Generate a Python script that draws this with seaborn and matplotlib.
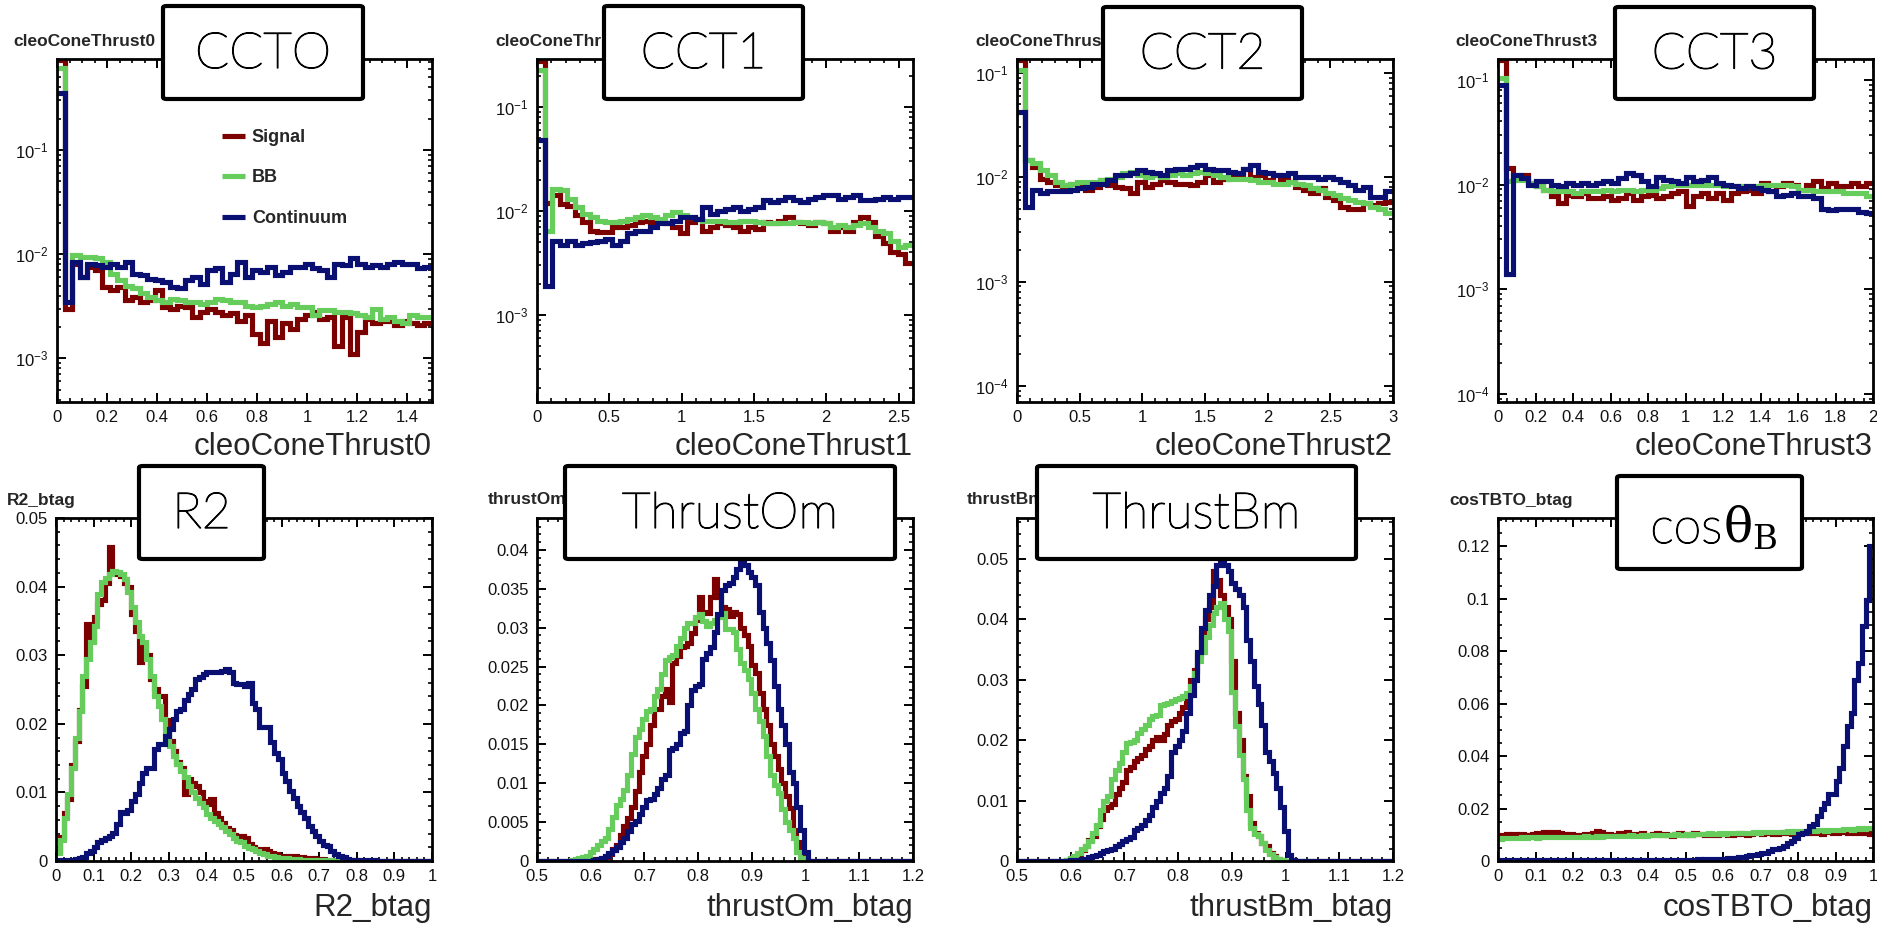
import numpy as np
import pandas as pd
import matplotlib
matplotlib.use("Agg")
import matplotlib.pyplot as plt
import matplotlib.patheffects as pe
import seaborn as sns
from matplotlib.patches import FancyBboxPatch
from matplotlib.ticker import MultipleLocator, FuncFormatter, LogLocator, NullFormatter

sns.set_style("ticks")
plt.rcParams['font.family'] = ['Liberation Sans', 'DejaVu Sans']
plt.rcParams['mathtext.fontset'] = 'custom'
plt.rcParams['mathtext.rm'] = 'Liberation Sans'
plt.rcParams['mathtext.it'] = 'Liberation Sans:italic'
plt.rcParams['mathtext.bf'] = 'Liberation Sans:bold'

# ---------------- data ----------------
labels = ["Signal", "BB", "Continuum"]
colors = ["#7d0000", "#66cc5c", "#0a0f72"]

# cleoConeThrust0 : 50 bins 0..1.5
cct0_edges = np.linspace(0.0, 1.5, 51)
cct0_signal = [0.73, 0.0030, 0.0081, 0.0060, 0.0075, 0.0070, 0.0048, 0.0045, 0.0048, 0.0036,
               0.0039, 0.0035, 0.0036, 0.0045, 0.0031, 0.0030, 0.0032, 0.0031, 0.0025, 0.0028,
               0.0030, 0.0028, 0.0026, 0.0027, 0.0023, 0.0026, 0.0017, 0.0014, 0.0023, 0.0016,
               0.0022, 0.0019, 0.0024, 0.0026, 0.0028, 0.0024, 0.0025, 0.0013, 0.0025, 0.0011,
               0.0018, 0.0024, 0.0022, 0.0023, 0.0023, 0.0021, 0.0023, 0.0022, 0.0021, 0.0022]
cct0_bb = [0.62, 0.0035, 0.0098, 0.0094, 0.0094, 0.0091, 0.0084, 0.0065, 0.0056, 0.0050,
           0.0047, 0.0042, 0.0039, 0.0036, 0.0035, 0.0037, 0.0036, 0.0035, 0.0035, 0.0033,
           0.0035, 0.0037, 0.0036, 0.0035, 0.0035, 0.0032, 0.0031, 0.0032, 0.0033, 0.0035,
           0.0032, 0.0033, 0.0031, 0.0031, 0.0026, 0.0029, 0.0029, 0.0028, 0.0028, 0.0027,
           0.0026, 0.0025, 0.0030, 0.0024, 0.0025, 0.0023, 0.0022, 0.0026, 0.0025, 0.0025]
cct0_cont = [0.35, 0.0035, 0.0084, 0.0060, 0.0081, 0.0078, 0.0075, 0.0081, 0.0075, 0.0084,
             0.0065, 0.0063, 0.0058, 0.0056, 0.0054, 0.0048, 0.0047, 0.0056, 0.0060, 0.0052,
             0.0070, 0.0073, 0.0054, 0.0065, 0.0084, 0.0060, 0.0070, 0.0067, 0.0075, 0.0063,
             0.0067, 0.0075, 0.0075, 0.0081, 0.0073, 0.0070, 0.0060, 0.0081, 0.0078, 0.0091,
             0.0081, 0.0075, 0.0078, 0.0075, 0.0081, 0.0084, 0.0081, 0.0081, 0.0073, 0.0075]

# cleoConeThrust1 : 50 bins 0..2.6
cct1_edges = np.linspace(0.0, 2.6, 51)
cct1_signal = [0.28, 0.0120, 0.0142, 0.0118, 0.0113, 0.0091, 0.0078, 0.0065, 0.0063, 0.0063,
               0.0070, 0.0070, 0.0073, 0.0078, 0.0081, 0.0078, 0.0078, 0.0076, 0.0070, 0.0061,
               0.0078, 0.0084, 0.0065, 0.0070, 0.0076, 0.0073, 0.0070, 0.0065, 0.0070, 0.0068,
               0.0078, 0.0076, 0.0081, 0.0088, 0.0078, 0.0076, 0.0073, 0.0078, 0.0076, 0.0065,
               0.0070, 0.0065, 0.0078, 0.0088, 0.0078, 0.0058, 0.0049, 0.0040, 0.0039, 0.0032]
cct1_bb = [0.225, 0.0065, 0.0164, 0.0158, 0.0132, 0.0109, 0.0094, 0.0088, 0.0081, 0.0078,
           0.0078, 0.0081, 0.0084, 0.0088, 0.0091, 0.0088, 0.0084, 0.0091, 0.0098, 0.0091,
           0.0088, 0.0084, 0.0081, 0.0081, 0.0081, 0.0078, 0.0078, 0.0081, 0.0081, 0.0078,
           0.0076, 0.0076, 0.0076, 0.0076, 0.0078, 0.0078, 0.0076, 0.0078, 0.0076, 0.0070,
           0.0073, 0.0070, 0.0073, 0.0076, 0.0070, 0.0065, 0.0061, 0.0052, 0.0045, 0.0047]
cct1_cont = [0.048, 0.0019, 0.0052, 0.0047, 0.0052, 0.0047, 0.0049, 0.0050, 0.0052, 0.0054,
             0.0047, 0.0052, 0.0061, 0.0065, 0.0065, 0.0070, 0.0076, 0.0076, 0.0081, 0.0088,
             0.0088, 0.0084, 0.0109, 0.0094, 0.0101, 0.0105, 0.0109, 0.0101, 0.0105, 0.0109,
             0.0127, 0.0122, 0.0127, 0.0136, 0.0127, 0.0122, 0.0132, 0.0136, 0.0142, 0.0142,
             0.0132, 0.0136, 0.0142, 0.0127, 0.0127, 0.0132, 0.0136, 0.0132, 0.0136, 0.0136]

# cleoConeThrust2 : 50 bins 0..3
cct2_edges = np.linspace(0.0, 3.0, 51)
cct2_signal = [0.132, 0.0146, 0.0126, 0.0097, 0.0090, 0.0084, 0.0081, 0.0087, 0.0081, 0.0075,
               0.0081, 0.0094, 0.0084, 0.0081, 0.0078, 0.0070, 0.0090, 0.0081, 0.0087, 0.0094,
               0.0090, 0.0087, 0.0087, 0.0084, 0.0090, 0.0105, 0.0090, 0.0097, 0.0101, 0.0105,
               0.0121, 0.0101, 0.0105, 0.0094, 0.0105, 0.0097, 0.0090, 0.0081, 0.0075, 0.0070,
               0.0078, 0.0065, 0.0060, 0.0052, 0.0050, 0.0050, 0.0056, 0.0054, 0.0056, 0.0058]
cct2_bb = [0.106, 0.0146, 0.0136, 0.0117, 0.0105, 0.0090, 0.0084, 0.0087, 0.0090, 0.0090,
           0.0090, 0.0094, 0.0097, 0.0101, 0.0109, 0.0113, 0.0105, 0.0101, 0.0105, 0.0101,
           0.0105, 0.0109, 0.0105, 0.0109, 0.0113, 0.0109, 0.0105, 0.0101, 0.0097, 0.0097,
           0.0097, 0.0094, 0.0090, 0.0090, 0.0087, 0.0087, 0.0090, 0.0087, 0.0084, 0.0078,
           0.0075, 0.0070, 0.0067, 0.0063, 0.0060, 0.0058, 0.0056, 0.0052, 0.0050, 0.0045]
cct2_cont = [0.042, 0.0052, 0.0075, 0.0070, 0.0073, 0.0073, 0.0073, 0.0075, 0.0078, 0.0081,
             0.0087, 0.0087, 0.0094, 0.0105, 0.0105, 0.0109, 0.0117, 0.0113, 0.0109, 0.0105,
             0.0117, 0.0121, 0.0121, 0.0126, 0.0131, 0.0121, 0.0117, 0.0117, 0.0113, 0.0109,
             0.0121, 0.0131, 0.0113, 0.0109, 0.0105, 0.0105, 0.0109, 0.0101, 0.0101, 0.0101,
             0.0097, 0.0101, 0.0097, 0.0090, 0.0084, 0.0075, 0.0081, 0.0065, 0.0065, 0.0073]

# cleoConeThrust3 : 50 bins 0..2
cct3_edges = np.linspace(0.0, 2.0, 51)
cct3_signal = [0.155, 0.0143, 0.0115, 0.0124, 0.0103, 0.0096, 0.0089, 0.0077, 0.0066, 0.0080,
               0.0077, 0.0083, 0.0074, 0.0074, 0.0077, 0.0071, 0.0074, 0.0083, 0.0071, 0.0077,
               0.0080, 0.0074, 0.0077, 0.0083, 0.0086, 0.0062, 0.0077, 0.0083, 0.0074, 0.0083,
               0.0071, 0.0083, 0.0086, 0.0089, 0.0083, 0.0103, 0.0086, 0.0096, 0.0103, 0.0099,
               0.0089, 0.0099, 0.0107, 0.0092, 0.0103, 0.0096, 0.0096, 0.0103, 0.0096, 0.0103]
cct3_bb = [0.104, 0.0107, 0.0111, 0.0111, 0.0103, 0.0096, 0.0089, 0.0086, 0.0086, 0.0086,
           0.0083, 0.0086, 0.0086, 0.0086, 0.0089, 0.0086, 0.0089, 0.0089, 0.0086, 0.0089,
           0.0089, 0.0092, 0.0096, 0.0099, 0.0099, 0.0099, 0.0099, 0.0099, 0.0099, 0.0099,
           0.0096, 0.0096, 0.0096, 0.0096, 0.0096, 0.0099, 0.0099, 0.0099, 0.0099, 0.0096,
           0.0089, 0.0089, 0.0086, 0.0086, 0.0086, 0.0086, 0.0083, 0.0083, 0.0083, 0.0077]
cct3_cont = [0.090, 0.0014, 0.0124, 0.0115, 0.0099, 0.0107, 0.0107, 0.0099, 0.0096, 0.0103,
             0.0099, 0.0103, 0.0099, 0.0103, 0.0107, 0.0103, 0.0115, 0.0128, 0.0124, 0.0107,
             0.0096, 0.0119, 0.0111, 0.0107, 0.0103, 0.0119, 0.0107, 0.0111, 0.0119, 0.0103,
             0.0099, 0.0096, 0.0092, 0.0096, 0.0092, 0.0089, 0.0086, 0.0077, 0.0080, 0.0083,
             0.0077, 0.0077, 0.0074, 0.0059, 0.0057, 0.0059, 0.0059, 0.0059, 0.0055, 0.0053]

# R2_btag : 100 bins 0..1
r2_edges = np.linspace(0.0, 1.0, 101)
r2_signal = [0.0015, 0.0035, 0.0070, 0.0090, 0.0140, 0.0175, 0.0220, 0.0255, 0.0345, 0.0320,
             0.0355, 0.0375, 0.0380, 0.0405, 0.0457, 0.0420, 0.0418, 0.0415, 0.0405, 0.0400,
             0.0360, 0.0335, 0.0290, 0.0315, 0.0300, 0.0265, 0.0250, 0.0240, 0.0240, 0.0205,
             0.0175, 0.0160, 0.0145, 0.0135, 0.0097, 0.0120, 0.0114, 0.0110, 0.0100, 0.0088,
             0.0083, 0.0090, 0.0070, 0.0062, 0.0055, 0.0048, 0.0045, 0.0038, 0.0036, 0.0037,
             0.0034, 0.0025, 0.0020, 0.0018, 0.0017, 0.0018, 0.0015, 0.0012, 0.0010, 0.0008,
             0.0008, 0.0007, 0.0007, 0.0007, 0.0006, 0.0006, 0.0005, 0.0005, 0.0004, 0.0003,
             0.0003, 0.0002, 0.0002, 0.0002, 0.0001, 0.0001, 0.0001, 0.0001, 0.0001, 0.0001,
             0.0, 0.0, 0.0, 0.0, 0.0, 0.0, 0.0, 0.0, 0.0, 0.0,
             0.0, 0.0, 0.0, 0.0, 0.0, 0.0, 0.0, 0.0, 0.0, 0.0]
r2_bb = [0.0012, 0.0030, 0.0063, 0.0097, 0.0136, 0.0180, 0.0219, 0.0270, 0.0294, 0.0319,
         0.0343, 0.0389, 0.0406, 0.0413, 0.0418, 0.0423, 0.0421, 0.0418, 0.0411, 0.0392,
         0.0370, 0.0348, 0.0328, 0.0319, 0.0294, 0.0270, 0.0241, 0.0226, 0.0207, 0.0187,
         0.0168, 0.0153, 0.0141, 0.0131, 0.0122, 0.0109, 0.0100, 0.0092, 0.0085, 0.0078,
         0.0068, 0.0063, 0.0058, 0.0054, 0.0049, 0.0044, 0.0039, 0.0034, 0.0029, 0.0027,
         0.0022, 0.0019, 0.0017, 0.0015, 0.0012, 0.0010, 0.0008, 0.0007, 0.0006, 0.0005,
         0.0004, 0.0004, 0.0003, 0.0003, 0.0003, 0.0002, 0.0002, 0.0002, 0.0001, 0.0001,
         0.0001, 0.0001, 0.0001, 0.0001, 0.0001, 0.0001, 0.0001, 0.0, 0.0, 0.0,
         0.0, 0.0, 0.0, 0.0, 0.0, 0.0, 0.0, 0.0, 0.0, 0.0,
         0.0, 0.0, 0.0, 0.0, 0.0, 0.0, 0.0, 0.0, 0.0, 0.0]
r2_cont = [0.0001, 0.0001, 0.0002, 0.0002, 0.0002, 0.0003, 0.0004, 0.0006, 0.0012, 0.0015,
           0.0020, 0.0027, 0.0030, 0.0034, 0.0036, 0.0041, 0.0054, 0.0071, 0.0070, 0.0075,
           0.0088, 0.0097, 0.0114, 0.0129, 0.0136, 0.0136, 0.0163, 0.0170, 0.0170, 0.0182,
           0.0192, 0.0207, 0.0219, 0.0221, 0.0234, 0.0243, 0.0251, 0.0265, 0.0268, 0.0273,
           0.0275, 0.0275, 0.0276, 0.0275, 0.0277, 0.0280, 0.0275, 0.0260, 0.0258, 0.0258,
           0.0255, 0.0260, 0.0231, 0.0221, 0.0195, 0.0195, 0.0195, 0.0173, 0.0158, 0.0148,
           0.0129, 0.0117, 0.0102, 0.0092, 0.0080, 0.0071, 0.0063, 0.0051, 0.0044, 0.0036,
           0.0029, 0.0024, 0.0022, 0.0015, 0.0010, 0.0007, 0.0006, 0.0003, 0.0002, 0.0001,
           0.0001, 0.0001, 0.0001, 0.0001, 0.0001, 0.0, 0.0, 0.0, 0.0, 0.0,
           0.0, 0.0, 0.0, 0.0, 0.0, 0.0, 0.0, 0.0, 0.0, 0.0]

# thrustOm_btag : 100 bins 0.5..1.2
tom_edges = np.linspace(0.5, 1.2, 101)
tom_signal = [0.0, 0.0, 0.0, 0.0, 0.0, 0.0, 0.0, 0.0, 0.0, 0.0,
              0.0, 0.0, 0.0, 0.0, 0.0001, 0.0002, 0.0003, 0.0003, 0.0005, 0.0009,
              0.0015, 0.0020, 0.0033, 0.0045, 0.0055, 0.0070, 0.0090, 0.0115, 0.0135, 0.0150,
              0.0175, 0.0195, 0.0195, 0.0212, 0.0221, 0.0205, 0.0255, 0.0264, 0.0275, 0.0276,
              0.0280, 0.0293, 0.0310, 0.0340, 0.0320, 0.0319, 0.0340, 0.0362, 0.0340, 0.0327,
              0.0324, 0.0315, 0.0320, 0.0318, 0.0300, 0.0290, 0.0277, 0.0252, 0.0242, 0.0216,
              0.0195, 0.0175, 0.0150, 0.0135, 0.0118, 0.0100, 0.0083, 0.0068, 0.0040, 0.0025,
              0.0010, 0.0002, 0.0, 0.0, 0.0, 0.0, 0.0, 0.0, 0.0, 0.0,
              0.0, 0.0, 0.0, 0.0, 0.0, 0.0, 0.0, 0.0, 0.0, 0.0,
              0.0, 0.0, 0.0, 0.0, 0.0, 0.0, 0.0, 0.0, 0.0, 0.0]
tom_bb = [0.0, 0.0, 0.0, 0.0, 0.0, 0.0, 0.0, 0.0, 0.0, 0.0001,
          0.0002, 0.0004, 0.0005, 0.0006, 0.0011, 0.0015, 0.0020, 0.0026, 0.0030, 0.0041,
          0.0056, 0.0072, 0.0080, 0.0091, 0.0111, 0.0138, 0.0160, 0.0170, 0.0182, 0.0193,
          0.0195, 0.0212, 0.0221, 0.0240, 0.0258, 0.0262, 0.0265, 0.0276, 0.0287, 0.0300,
          0.0306, 0.0306, 0.0314, 0.0317, 0.0308, 0.0302, 0.0306, 0.0310, 0.0314, 0.0319,
          0.0298, 0.0298, 0.0295, 0.0272, 0.0255, 0.0245, 0.0234, 0.0216, 0.0195, 0.0180,
          0.0161, 0.0135, 0.0110, 0.0098, 0.0088, 0.0067, 0.0050, 0.0040, 0.0030, 0.0012,
          0.0004, 0.0, 0.0, 0.0, 0.0, 0.0, 0.0, 0.0, 0.0, 0.0,
          0.0, 0.0, 0.0, 0.0, 0.0, 0.0, 0.0, 0.0, 0.0, 0.0,
          0.0, 0.0, 0.0, 0.0, 0.0, 0.0, 0.0, 0.0, 0.0, 0.0]
tom_cont = [0.0, 0.0, 0.0, 0.0, 0.0, 0.0, 0.0, 0.0, 0.0, 0.0,
            0.0, 0.0, 0.0, 0.0, 0.0, 0.0001, 0.0002, 0.0004, 0.0006, 0.0010,
            0.0014, 0.0018, 0.0025, 0.0030, 0.0039, 0.0048, 0.0052, 0.0060, 0.0070, 0.0078,
            0.0080, 0.0086, 0.0094, 0.0105, 0.0110, 0.0143, 0.0145, 0.0150, 0.0165, 0.0167,
            0.0200, 0.0220, 0.0225, 0.0228, 0.0260, 0.0268, 0.0275, 0.0295, 0.0318, 0.0348,
            0.0355, 0.0358, 0.0365, 0.0375, 0.0387, 0.0380, 0.0372, 0.0365, 0.0355, 0.0320,
            0.0300, 0.0280, 0.0258, 0.0225, 0.0195, 0.0175, 0.0150, 0.0115, 0.0100, 0.0070,
            0.0040, 0.0012, 0.0, 0.0, 0.0, 0.0, 0.0, 0.0, 0.0, 0.0,
            0.0, 0.0, 0.0, 0.0, 0.0, 0.0, 0.0, 0.0, 0.0, 0.0,
            0.0, 0.0, 0.0, 0.0, 0.0, 0.0, 0.0, 0.0, 0.0, 0.0]

# thrustBm_btag : 100 bins 0.5..1.2
tbm_edges = np.linspace(0.5, 1.2, 101)
tbm_signal = [0.0, 0.0, 0.0, 0.0, 0.0, 0.0, 0.0, 0.0, 0.0, 0.0,
              0.0, 0.0, 0.0, 0.0001, 0.0003, 0.0006, 0.0010, 0.0019, 0.0025, 0.0035,
              0.0042, 0.0058, 0.0070, 0.0085, 0.0090, 0.0095, 0.0110, 0.0120, 0.0130, 0.0150,
              0.0155, 0.0165, 0.0170, 0.0175, 0.0185, 0.0190, 0.0200, 0.0205, 0.0200, 0.0210,
              0.0225, 0.0232, 0.0235, 0.0245, 0.0255, 0.0270, 0.0300, 0.0315, 0.0340, 0.0370,
              0.0400, 0.0420, 0.0480, 0.0465, 0.0440, 0.0420, 0.0400, 0.0330, 0.0245, 0.0200,
              0.0140, 0.0107, 0.0063, 0.0047, 0.0041, 0.0030, 0.0025, 0.0014, 0.0008, 0.0003,
              0.0001, 0.0, 0.0, 0.0, 0.0, 0.0, 0.0, 0.0, 0.0, 0.0,
              0.0, 0.0, 0.0, 0.0, 0.0, 0.0, 0.0, 0.0, 0.0, 0.0,
              0.0, 0.0, 0.0, 0.0, 0.0, 0.0, 0.0, 0.0, 0.0, 0.0]
tbm_bb = [0.0, 0.0, 0.0, 0.0, 0.0, 0.0, 0.0, 0.0, 0.0, 0.0,
          0.0, 0.0, 0.0, 0.0002, 0.0005, 0.0008, 0.0014, 0.0020, 0.0025, 0.0033,
          0.0047, 0.0060, 0.0085, 0.0100, 0.0108, 0.0135, 0.0150, 0.0162, 0.0180, 0.0195,
          0.0197, 0.0200, 0.0212, 0.0218, 0.0225, 0.0235, 0.0240, 0.0242, 0.0258, 0.0260,
          0.0262, 0.0264, 0.0267, 0.0270, 0.0272, 0.0278, 0.0290, 0.0310, 0.0330, 0.0345,
          0.0370, 0.0390, 0.0410, 0.0420, 0.0427, 0.0400, 0.0380, 0.0280, 0.0223, 0.0175,
          0.0135, 0.0085, 0.0055, 0.0045, 0.0041, 0.0030, 0.0019, 0.0011, 0.0006, 0.0003,
          0.0001, 0.0, 0.0, 0.0, 0.0, 0.0, 0.0, 0.0, 0.0, 0.0,
          0.0, 0.0, 0.0, 0.0, 0.0, 0.0, 0.0, 0.0, 0.0, 0.0,
          0.0, 0.0, 0.0, 0.0, 0.0, 0.0, 0.0, 0.0, 0.0, 0.0]
tbm_cont = [0.0, 0.0, 0.0, 0.0, 0.0, 0.0, 0.0, 0.0, 0.0, 0.0,
            0.0, 0.0, 0.0, 0.0, 0.0001, 0.0001, 0.0002, 0.0003, 0.0004, 0.0006,
            0.0008, 0.0010, 0.0013, 0.0016, 0.0018, 0.0020, 0.0024, 0.0028, 0.0033, 0.0037,
            0.0040, 0.0052, 0.0055, 0.0060, 0.0068, 0.0076, 0.0090, 0.0100, 0.0112, 0.0120,
            0.0140, 0.0180, 0.0190, 0.0200, 0.0215, 0.0245, 0.0275, 0.0300, 0.0345, 0.0385,
            0.0415, 0.0440, 0.0455, 0.0490, 0.0500, 0.0490, 0.0480, 0.0460, 0.0450, 0.0440,
            0.0420, 0.0365, 0.0330, 0.0290, 0.0260, 0.0225, 0.0180, 0.0165, 0.0145, 0.0120,
            0.0090, 0.0050, 0.0010, 0.0002, 0.0, 0.0, 0.0, 0.0, 0.0, 0.0,
            0.0, 0.0, 0.0, 0.0, 0.0, 0.0, 0.0, 0.0, 0.0, 0.0,
            0.0, 0.0, 0.0, 0.0, 0.0, 0.0, 0.0, 0.0, 0.0, 0.0]

# cosTBTO_btag : 100 bins 0..1
ctb_edges = np.linspace(0.0, 1.0, 101)
ctb_signal = [0.0100, 0.0098, 0.0102, 0.0099, 0.0103, 0.0101, 0.0104, 0.0100, 0.0098, 0.0102,
              0.0108, 0.0106, 0.0110, 0.0107, 0.0109, 0.0111, 0.0106, 0.0104, 0.0099, 0.0102,
              0.0100, 0.0097, 0.0101, 0.0104, 0.0098, 0.0108, 0.0113, 0.0110, 0.0100, 0.0103,
              0.0099, 0.0101, 0.0105, 0.0098, 0.0110, 0.0104, 0.0102, 0.0100, 0.0107, 0.0101,
              0.0098, 0.0103, 0.0106, 0.0100, 0.0104, 0.0101, 0.0097, 0.0102, 0.0105, 0.0099,
              0.0103, 0.0100, 0.0106, 0.0102, 0.0104, 0.0099, 0.0101, 0.0103, 0.0100, 0.0102,
              0.0104, 0.0101, 0.0099, 0.0103, 0.0106, 0.0102, 0.0100, 0.0104, 0.0107, 0.0105,
              0.0103, 0.0108, 0.0106, 0.0104, 0.0102, 0.0105, 0.0109, 0.0107, 0.0103, 0.0106,
              0.0108, 0.0105, 0.0107, 0.0110, 0.0106, 0.0108, 0.0104, 0.0109, 0.0111, 0.0107,
              0.0105, 0.0109, 0.0112, 0.0106, 0.0108, 0.0110, 0.0105, 0.0108, 0.0106, 0.0103]
ctb_bb = [0.0085, 0.0087, 0.0088, 0.0086, 0.0089, 0.0088, 0.0090, 0.0089, 0.0091, 0.0090,
          0.0089, 0.0091, 0.0090, 0.0092, 0.0090, 0.0091, 0.0093, 0.0091, 0.0092, 0.0090,
          0.0091, 0.0093, 0.0092, 0.0094, 0.0092, 0.0093, 0.0095, 0.0093, 0.0094, 0.0096,
          0.0094, 0.0095, 0.0097, 0.0095, 0.0096, 0.0098, 0.0096, 0.0097, 0.0099, 0.0097,
          0.0098, 0.0100, 0.0098, 0.0099, 0.0101, 0.0099, 0.0100, 0.0102, 0.0100, 0.0101,
          0.0103, 0.0101, 0.0102, 0.0104, 0.0102, 0.0103, 0.0105, 0.0103, 0.0104, 0.0106,
          0.0104, 0.0105, 0.0107, 0.0105, 0.0106, 0.0108, 0.0106, 0.0107, 0.0109, 0.0108,
          0.0109, 0.0111, 0.0109, 0.0110, 0.0112, 0.0110, 0.0111, 0.0113, 0.0112, 0.0114,
          0.0113, 0.0115, 0.0114, 0.0116, 0.0115, 0.0117, 0.0118, 0.0116, 0.0119, 0.0118,
          0.0120, 0.0119, 0.0121, 0.0122, 0.0120, 0.0123, 0.0124, 0.0122, 0.0125, 0.0127]
ctb_cont = [0.0003, 0.0002, 0.0003, 0.0003, 0.0002, 0.0003, 0.0003, 0.0003, 0.0002, 0.0003,
            0.0003, 0.0002, 0.0003, 0.0003, 0.0002, 0.0003, 0.0003, 0.0003, 0.0002, 0.0003,
            0.0003, 0.0002, 0.0003, 0.0003, 0.0002, 0.0003, 0.0003, 0.0003, 0.0002, 0.0003,
            0.0003, 0.0003, 0.0004, 0.0003, 0.0003, 0.0004, 0.0003, 0.0004, 0.0004, 0.0003,
            0.0004, 0.0004, 0.0003, 0.0004, 0.0004, 0.0004, 0.0005, 0.0004, 0.0004, 0.0005,
            0.0005, 0.0005, 0.0005, 0.0006, 0.0005, 0.0006, 0.0006, 0.0006, 0.0007, 0.0008,
            0.0009, 0.0010, 0.0011, 0.0012, 0.0015, 0.0017, 0.0019, 0.0021, 0.0023, 0.0027,
            0.0032, 0.0032, 0.0038, 0.0044, 0.0044, 0.0048, 0.0057, 0.0070, 0.0076, 0.0089,
            0.0102, 0.0108, 0.0114, 0.0133, 0.0140, 0.0171, 0.0197, 0.0222, 0.0254, 0.0254,
            0.0305, 0.0356, 0.0438, 0.0514, 0.0565, 0.0692, 0.0756, 0.0895, 0.0997, 0.1200]

# ---------------- layout ----------------
W, H = 1877, 926
fig = plt.figure(figsize=(W / 100, H / 100), dpi=100)
fig.patch.set_facecolor("white")

panels = [
    dict(ax=(57, 59, 432, 402), edges=cct0_edges, series=(cct0_signal, cct0_bb, cct0_cont),
         log=True, ylim=(3.8e-4, 0.75), xmaj=0.2, xmin=0.05, xlim=(0, 1.5),
         title="cleoConeThrust0", tpos=(13, 42), xlabel="cleoConeThrust0", xly=447,
         box=(163, 6, 363, 99), boxtext="CCTO"),
    dict(ax=(537, 59, 913, 402), edges=cct1_edges, series=(cct1_signal, cct1_bb, cct1_cont),
         log=True, ylim=(1.46e-4, 0.29), xmaj=0.5, xmin=0.1, xlim=(0, 2.6),
         title="cleoConeThrust1", tpos=(495, 42), xlabel="cleoConeThrust1", xly=447,
         box=(604, 6, 803, 99), boxtext="CCT1"),
    dict(ax=(1017, 59, 1393, 402), edges=cct2_edges, series=(cct2_signal, cct2_bb, cct2_cont),
         log=True, ylim=(7.0e-5, 0.136), xmaj=0.5, xmin=0.1, xlim=(0, 3.0),
         title="cleoConeThrust2", tpos=(975, 42), xlabel="cleoConeThrust2", xly=447,
         box=(1103, 7, 1302, 99), boxtext="CCT2"),
    dict(ax=(1498, 59, 1873, 402), edges=cct3_edges, series=(cct3_signal, cct3_bb, cct3_cont),
         log=True, ylim=(8.4e-5, 0.158), xmaj=0.2, xmin=0.05, xlim=(0, 2.0),
         title="cleoConeThrust3", tpos=(1455, 42), xlabel="cleoConeThrust3", xly=447,
         box=(1615, 7, 1814, 99), boxtext="CCT3"),
    dict(ax=(56, 518, 432, 861), edges=r2_edges, series=(r2_signal, r2_bb, r2_cont),
         log=False, ylim=(0, 0.05), ymaj=0.01, ymin=0.002, xmaj=0.1, xmin=0.02, xlim=(0, 1),
         title="R2_btag", tpos=(7, 501), xlabel="R2_btag", xly=908,
         box=(139, 466, 264, 559), boxtext="R2"),
    dict(ax=(537, 518, 913, 861), edges=tom_edges, series=(tom_signal, tom_bb, tom_cont),
         log=False, ylim=(0, 0.0441), ymaj=0.005, ymin=0.001, xmaj=0.1, xmin=0.02, xlim=(0.5, 1.2),
         title="thrustOm_btag", tpos=(488, 500), xlabel="thrustOm_btag", xly=908,
         box=(565, 466, 895, 559), boxtext="ThrustOm"),
    dict(ax=(1017, 518, 1393, 861), edges=tbm_edges, series=(tbm_signal, tbm_bb, tbm_cont),
         log=False, ylim=(0, 0.0567), ymaj=0.01, ymin=0.002, xmaj=0.1, xmin=0.02, xlim=(0.5, 1.2),
         title="thrustBm_btag", tpos=(967, 500), xlabel="thrustBm_btag", xly=908,
         box=(1037, 466, 1356, 559), boxtext="ThrustBm"),
    dict(ax=(1498, 518, 1873, 861), edges=ctb_edges, series=(ctb_signal, ctb_bb, ctb_cont),
         log=False, ylim=(0, 0.1308), ymaj=0.02, ymin=0.005, xmaj=0.1, xmin=0.02, xlim=(0, 1),
         title="cosTBTO_btag", tpos=(1449, 501), xlabel="cosTBTO_btag", xly=908,
         box=(1617, 476, 1802, 569), boxtext=None),
]

LW = 3.7
fmt = FuncFormatter(lambda v, pos: f"{v:g}")
thicken = [pe.withStroke(linewidth=0.9, foreground="black")]

for i, p in enumerate(panels):
    l, t, r, b = p["ax"]
    ax = fig.add_axes([l / W, 1 - b / H, (r - l) / W, (b - t) / H])
    edges = p["edges"]
    centers = 0.5 * (edges[:-1] + edges[1:])
    for vals, col, lab in zip(p["series"], colors, labels):
        assert len(vals) == len(centers), (p["title"], lab, len(vals))
        df = pd.DataFrame({"x": centers, "w": np.asarray(vals, float)})
        sns.histplot(data=df, x="x", weights="w", bins=edges.tolist(),
                     element="step", fill=False, color=col, linewidth=LW,
                     ax=ax, label=lab, solid_joinstyle="miter", solid_capstyle="butt")
    ax.set_xlabel("")
    ax.set_ylabel("")
    ax.set_xlim(*p["xlim"])
    if p["log"]:
        ax.set_yscale("log")
        ax.yaxis.set_major_locator(LogLocator(base=10))
        ax.yaxis.set_minor_locator(LogLocator(base=10, subs=np.arange(2, 10)))
        ax.yaxis.set_minor_formatter(NullFormatter())
    else:
        ax.yaxis.set_major_locator(MultipleLocator(p["ymaj"]))
        ax.yaxis.set_minor_locator(MultipleLocator(p["ymin"]))
        ax.yaxis.set_major_formatter(fmt)
    ax.set_ylim(*p["ylim"])
    ax.xaxis.set_major_locator(MultipleLocator(p["xmaj"]))
    ax.xaxis.set_minor_locator(MultipleLocator(p["xmin"]))
    ax.xaxis.set_major_formatter(fmt)
    for s in ax.spines.values():
        s.set_visible(True)
        s.set_linewidth(2.0)
        s.set_color("black")
    ax.tick_params(which="both", direction="in", top=True, right=True,
                   color="black", labelsize=12, labelcolor="#111111", pad=6)
    ax.tick_params(which="major", length=6.5, width=1.4)
    ax.tick_params(which="minor", length=3.2, width=1.2)
    ax.set_facecolor("white")
    ax.grid(False)

    if i == 0:
        ax.legend(loc="upper left", bbox_to_anchor=(222 / W, 1 - 129 / H),
                  bbox_transform=fig.transFigure, frameon=False,
                  prop={"weight": "bold", "size": 13}, handlelength=1.3,
                  handletextpad=0.35, labelspacing=1.3, borderpad=0, borderaxespad=0)

    # small histogram title (partly hidden by the box)
    fig.text(p["tpos"][0] / W, 1 - p["tpos"][1] / H, p["title"], ha="left", va="center",
             fontsize=12.5, fontweight="bold", zorder=5)
    # axis label
    fig.text(r / W, 1 - p["xly"] / H, p["xlabel"], ha="right", va="center",
             fontsize=22.5, zorder=5)
    # labelled box
    x0, y0, x1, y1 = p["box"]
    fig.add_artist(FancyBboxPatch((x0 / W, 1 - y1 / H), (x1 - x0) / W, (y1 - y0) / H,
                                  boxstyle="round,pad=0,rounding_size=0.002",
                                  transform=fig.transFigure, facecolor="white",
                                  edgecolor="black", linewidth=3.0, zorder=20))
    cx, cy = (x0 + x1) / 2 / W, 1 - (y0 + y1) / 2 / H
    if p["boxtext"] is not None:
        fig.text(cx, cy - 2 / H, p["boxtext"], ha="center", va="center", fontsize=36,
                 family=["Lato", "DejaVu Sans"], fontweight="light", color="black",
                 path_effects=thicken, zorder=21)
    else:
        # "cos" followed by an upright serif theta with subscript B
        fig.text(1722 / W, 1 - 543 / H, "cos", ha="right", va="baseline", fontsize=36,
                 family=["Lato", "DejaVu Sans"], fontweight="light", color="black",
                 path_effects=thicken, zorder=21)
        fig.text(1723 / W, 1 - 543 / H, r"$\mathrm{\theta}_{\mathrm{B}}$", ha="left",
                 va="baseline", fontsize=35, color="black",
                 math_fontfamily="dejavuserif", zorder=21)

fig.savefig("out.png", dpi=100, facecolor="white")
